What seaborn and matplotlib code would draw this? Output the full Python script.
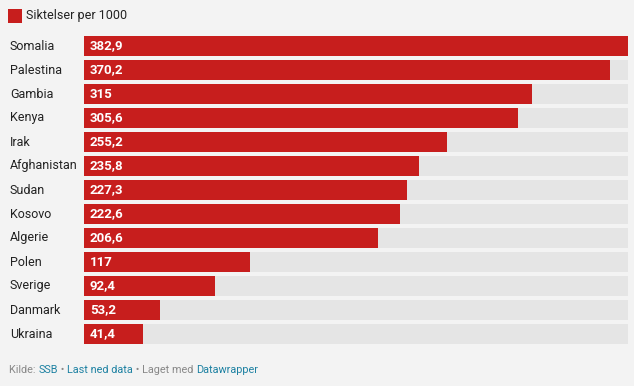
import matplotlib
matplotlib.use("Agg")
import matplotlib.pyplot as plt
import seaborn as sns
import pandas as pd
from matplotlib.patches import Rectangle

countries = ["Somalia", "Palestina", "Gambia", "Kenya", "Irak", "Afghanistan", "Sudan",
             "Kosovo", "Algerie", "Polen", "Sverige", "Danmark", "Ukraina"]
values = [382.9, 370.2, 315, 305.6, 255.2, 235.8, 227.3, 222.6, 206.6, 117, 92.4, 53.2, 41.4]
labels = ["382,9", "370,2", "315", "305,6", "255,2", "235,8", "227,3", "222,6", "206,6",
          "117", "92,4", "53,2", "41,4"]
legend_label = "Siktelser per 1000"

bg = "#f3f3f3"
red = "#c71e1d"
grey = "#e5e5e5"

sns.set_style("white")
plt.rcParams['font.family'] = ['Roboto', 'DejaVu Sans']

W, H = 634, 386
fig = plt.figure(figsize=(W / 100, H / 100), dpi=100, facecolor=bg)
ax = fig.add_axes([84 / W, 42 / H, 544 / W, 308 / H])
ax.set_facecolor(bg)

df = pd.DataFrame({"country": countries, "value": values})
df["full"] = max(values)
bw = 20 / 24
sns.barplot(data=df, x="full", y="country", color=grey, width=bw, saturation=1, ax=ax,
            orient="h", linewidth=0)
sns.barplot(data=df, x="value", y="country", color=red, width=bw, saturation=1, ax=ax,
            orient="h", linewidth=0)

ax.set_xlim(0, max(values))
ax.set_ylim(len(countries) - 1 + bw / 2, -bw / 2)
ax.set_xticks([])
ax.set_yticks([])
ax.set_xlabel("")
ax.set_ylabel("")
for s in ax.spines.values():
    s.set_visible(False)

for i, (c, lab) in enumerate(zip(countries, labels)):
    ax.text(-74 / 544 * max(values), i, c, ha="left", va="center", fontsize=9,
            color="#222222", clip_on=False)
    ax.text(6 / 544 * max(values), i, lab, ha="left", va="center", fontsize=9.5,
            color="white", fontweight="bold")

# legend
fig.patches.append(Rectangle((8 / W, 1 - 23 / H), 14 / W, 14 / H, transform=fig.transFigure,
                             facecolor=red, edgecolor="none"))
fig.text(26 / W, 1 - 16 / H, legend_label, ha="left", va="center", fontsize=9, color="#222222")

# footer
parts = [("Kilde: ", "#888888"), ("SSB", "#1d81a2"), (" • ", "#888888"),
         ("Last ned data", "#1d81a2"), (" • Laget med ", "#888888"), ("Datawrapper", "#1d81a2")]
fig.canvas.draw()
r = fig.canvas.get_renderer()
x = 9
for txt, col in parts:
    t = fig.text(x / W, 1 - 370 / H, txt, ha="left", va="center", fontsize=7.8, color=col)
    x += t.get_window_extent(renderer=r).width

fig.savefig("out.png", dpi=100, facecolor=bg)
